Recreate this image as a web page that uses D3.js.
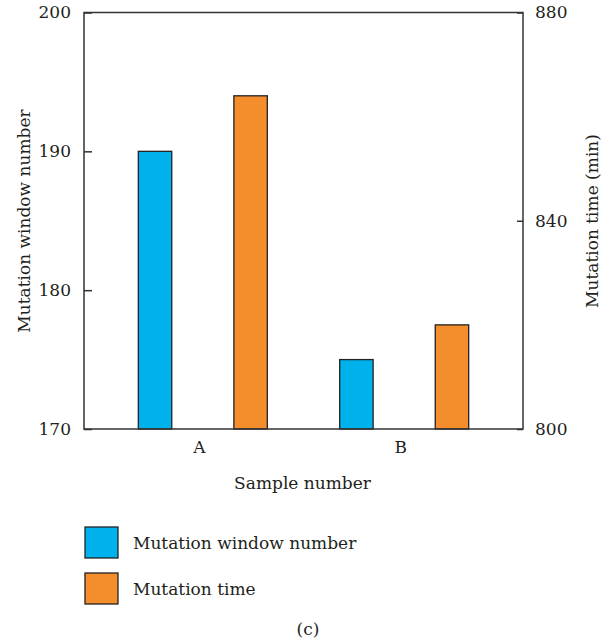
<!DOCTYPE html>
<html>
<head>
<meta charset="utf-8">
<script src="https://cdn.jsdelivr.net/npm/d3@7"></script>
<style>
  body { margin: 0; background: #fff; }
  svg { display: block; }
  text { font-family: "DejaVu Serif", serif; fill: #231f20; }
</style>
</head>
<body>
<div id="chart"></div>
<script>
// dati
var samples = ["A", "B"];
var windowNumber = [190, 175];   // asse sinistro
var mutationTime = [864, 820];   // asse destro (min)
var leftTicks = [170, 180, 190, 200];
var rightTicks = [800, 840, 880];
var seriesNames = ["Mutation window number", "Mutation time"];
var colors = ["#00b2ec", "#f48d2c"];

var W = 602, H = 644;
var x0 = 84, x1 = 523, y0 = 12.5, y1 = 429;

var svg = d3.select("#chart").append("svg").attr("width", W).attr("height", H);

var x = d3.scalePoint().domain(samples).range([x0, x1]).padding(0.59);
var sub = d3.scaleBand().domain([0, 1]).range([-64.5, 64.5]).paddingInner(0.65);
var yL = d3.scaleLinear().domain([170, 200]).range([y1, y0]);
var yR = d3.scaleLinear().domain([800, 880]).range([y1, y0]);

// barre
var bars = [];
samples.forEach(function (s, i) {
  bars.push({ s: s, k: 0, y: yL(windowNumber[i]) });
  bars.push({ s: s, k: 1, y: yR(mutationTime[i]) });
});

svg.selectAll("rect.bar")
  .data(bars)
  .enter()
  .append("rect")
  .attr("class", "bar")
  .attr("x", function (d) { return x(d.s) + sub(d.k); })
  .attr("y", function (d) { return d.y; })
  .attr("width", sub.bandwidth())
  .attr("height", function (d) { return y1 - d.y; })
  .attr("fill", function (d) { return colors[d.k]; })
  .attr("stroke", "#222")
  .attr("stroke-width", 1.3);

// cornice
svg.append("rect")
  .attr("x", x0).attr("y", y0)
  .attr("width", x1 - x0).attr("height", y1 - y0)
  .attr("fill", "none")
  .attr("stroke", "#333")
  .attr("stroke-width", 1.5);

// assi
var left = svg.append("g")
  .attr("transform", "translate(" + x0 + ",0)")
  .call(d3.axisLeft(yL).tickValues(leftTicks).tickSizeInner(-8).tickSizeOuter(0).tickPadding(13));
var right = svg.append("g")
  .attr("transform", "translate(" + x1 + ",0)")
  .call(d3.axisRight(yR).tickValues(rightTicks).tickSizeInner(-6).tickSizeOuter(0).tickPadding(12));
var bottom = svg.append("g")
  .attr("transform", "translate(0," + y1 + ")")
  .call(d3.axisBottom(x).tickSize(0).tickPadding(12));

[left, right, bottom].forEach(function (g) {
  g.attr("font-family", null).attr("font-size", null);
  g.select(".domain").remove();
  g.selectAll(".tick line").attr("stroke", "#333").attr("stroke-width", 1.5);
  g.selectAll(".tick text")
    .attr("font-size", "17px")
    .attr("fill", "#231f20");
});
bottom.selectAll(".tick text").attr("dx", -4);

// titoli assi
svg.append("text")
  .attr("transform", "translate(30,221) rotate(-90)")
  .attr("text-anchor", "middle")
  .attr("font-size", "17px")
  .text("Mutation window number");

svg.append("text")
  .attr("transform", "translate(598,221) rotate(-90)")
  .attr("text-anchor", "middle")
  .attr("font-size", "17px")
  .text("Mutation time (min)");

svg.append("text")
  .attr("x", (x0 + x1) / 2 - 1)
  .attr("y", 489)
  .attr("text-anchor", "middle")
  .attr("font-size", "17px")
  .text("Sample number");

// legenda
var legend = svg.selectAll("g.leg")
  .data(seriesNames)
  .enter()
  .append("g")
  .attr("class", "leg")
  .attr("transform", function (d, i) { return "translate(85," + (527 + i * 46) + ")"; });

legend.append("rect")
  .attr("width", 33).attr("height", 31)
  .attr("fill", function (d, i) { return colors[i]; })
  .attr("stroke", "#222")
  .attr("stroke-width", 1.3);

legend.append("text")
  .attr("x", 48)
  .attr("y", 22)
  .attr("font-size", "17px")
  .text(function (d) { return d; });

svg.append("text")
  .attr("x", 308)
  .attr("y", 635)
  .attr("text-anchor", "middle")
  .attr("font-size", "17px")
  .text("(c)");
</script>
</body>
</html>
